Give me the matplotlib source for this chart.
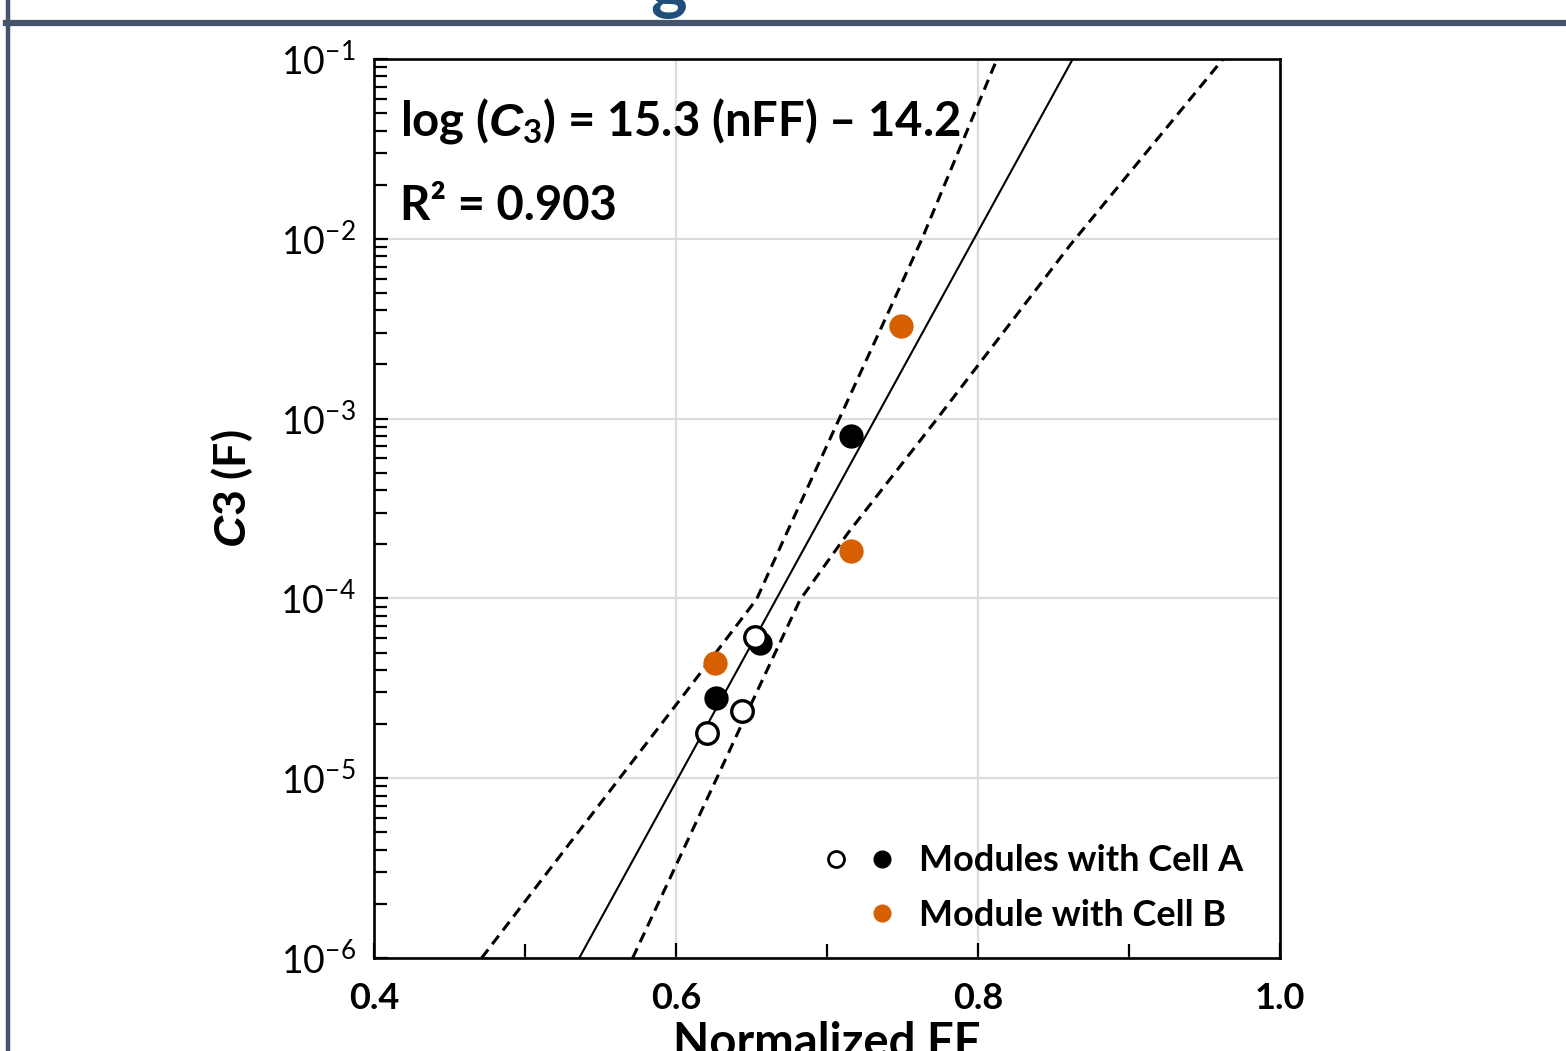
import numpy as np
import matplotlib
matplotlib.use("Agg")
import matplotlib.pyplot as plt
from matplotlib.lines import Line2D
from matplotlib.legend_handler import HandlerTuple

plt.rcParams["font.family"] = ["Lato", "DejaVu Sans"]
plt.rcParams["mathtext.fontset"] = "custom"
plt.rcParams["mathtext.rm"] = "Lato"
plt.rcParams["mathtext.it"] = "Liberation Sans:italic:bold"
plt.rcParams["mathtext.bf"] = "Lato:bold"

# modules with cell A: open and filled symbols
nff_a_open = [0.6207, 0.6435, 0.6523]
c3_a_open = [1.79e-5, 2.37e-5, 6.08e-5]
nff_a_fill = [0.6265, 0.6556, 0.7157]
c3_a_fill = [2.78e-5, 5.68e-5, 8.0e-4]

# module with cell B
nff_b = [0.6258, 0.7159, 0.7490]
c3_b = [4.38e-5, 1.84e-4, 3.27e-3]

# regression: log(C3) = slope * nFF + intercept
slope = 15.3
intercept = -14.2
r_squared = 0.903

# confidence bands around the fit
upper_nff = [0.4713, 0.5627, 0.6025, 0.6534, 0.6733, 0.7077, 0.7362, 0.7627, 0.8126]
upper_c3 = [1.0e-6, 1.0e-5, 2.72e-5, 9.9e-5, 2.31e-4, 9.8e-4, 3.24e-3, 9.9e-3, 1.0e-1]
lower_nff = [0.5713, 0.6270, 0.6510, 0.6821, 0.7139, 0.7722, 0.8609, 0.9623]
lower_c3 = [1.0e-6, 1.0e-5, 2.72e-5, 9.8e-5, 2.31e-4, 9.8e-4, 9.2e-3, 1.0e-1]

x_ticks = [0.4, 0.6, 0.8, 1.0]
x_minor = [0.5, 0.7, 0.9]

orange = "#d65f00"
frame_col = "#44546a"

fig = plt.figure(figsize=(15.66, 10.51), dpi=100)
ax = fig.add_axes([0.2388, 0.0885, 0.5786, 0.8554])

fit_x = np.array([0.4, 1.0])
ax.plot(fit_x, 10 ** (slope * fit_x + intercept), color="black", lw=1.5, zorder=3)
ax.plot(upper_nff, upper_c3, color="black", lw=2.2, ls=(0, (3.5, 2.2)), zorder=3)
ax.plot(lower_nff, lower_c3, color="black", lw=2.2, ls=(0, (3.5, 2.2)), zorder=3)

ms = 16.5
ax.plot(nff_b, c3_b, ls="none", marker="o", ms=ms, mfc=orange, mec=orange, zorder=4)
ax.plot(nff_a_fill, c3_a_fill, ls="none", marker="o", ms=ms, mfc="black", mec="black", zorder=4)
ax.plot(nff_a_open, c3_a_open, ls="none", marker="o", ms=ms - 1, mfc="white", mec="black",
        mew=2.4, zorder=5)

ax.set_xlim(0.4, 1.0)
ax.set_yscale("log")
ax.set_ylim(1e-6, 1e-1)
ax.set_xticks(x_ticks)
ax.set_xticks(x_minor, minor=True)
ax.set_xticklabels([f"{v:.1f}" for v in x_ticks], fontsize=26, fontweight="bold")
ax.tick_params(axis="both", which="both", direction="in", top=False, right=False, width=1.6)
ax.tick_params(axis="x", which="major", length=11, pad=17)
ax.tick_params(axis="x", which="minor", length=10)
ax.tick_params(axis="y", which="major", length=10, pad=13, labelsize=27)
ax.tick_params(axis="y", which="minor", length=9)
ax.grid(True, which="major", color="#dcdcdc", lw=1.6, zorder=0)
ax.set_axisbelow(True)
for sp in ax.spines.values():
    sp.set_linewidth(1.9)

ax.set_xlabel("Normalized FF", fontsize=34, fontweight="bold")
ax.xaxis.set_label_coords(0.5, -0.0705)
ax.set_ylabel(r"$\mathit{C}$3 (F)", fontsize=32, fontweight="bold", va="center")
ax.yaxis.set_label_coords(-0.157, 0.522)

ax.text(0.029, 0.931, r"log ($\mathit{C}_{\mathdefault{3}}$) = %.1f (nFF) – %.1f" % (slope, -intercept),
        transform=ax.transAxes, fontsize=34, fontweight="bold", va="center", ha="left")
ax.text(0.029, 0.836, "R² = %.3f" % r_squared, transform=ax.transAxes,
        fontsize=34, fontweight="bold", va="center", ha="left")

h_open = Line2D([], [], ls="none", marker="o", ms=11.5, mfc="white", mec="black", mew=2)
h_fill = Line2D([], [], ls="none", marker="o", ms=12, mfc="black", mec="black")
h_blank = Line2D([], [], ls="none")
h_b = Line2D([], [], ls="none", marker="o", ms=12, mfc=orange, mec=orange)
leg = ax.legend([(h_open, h_fill), (h_blank, h_b)],
                ["Modules with Cell A", "Module with Cell B"],
                handler_map={tuple: HandlerTuple(ndivide=None, pad=0)},
                loc="lower right", bbox_to_anchor=(0.959, 0.029), frameon=False,
                prop={"size": 26, "weight": "bold"},
                handlelength=2.5, handletextpad=0.4, labelspacing=0.6,
                borderaxespad=0, borderpad=0)

# slide frame and the clipped heading above it
fig.add_artist(Line2D([8 / 1566, 8 / 1566], [0, 1], color=frame_col, lw=3.2))
fig.add_artist(Line2D([6 / 1566, 1], [1 - 23 / 1051, 1 - 23 / 1051], color=frame_col, lw=4.5))
fig.text(0.4150, 1 - 5 / 1051, "g", color="#1f4e79", fontsize=50, fontweight="bold", va="baseline")

fig.savefig("out.png", dpi=100)
